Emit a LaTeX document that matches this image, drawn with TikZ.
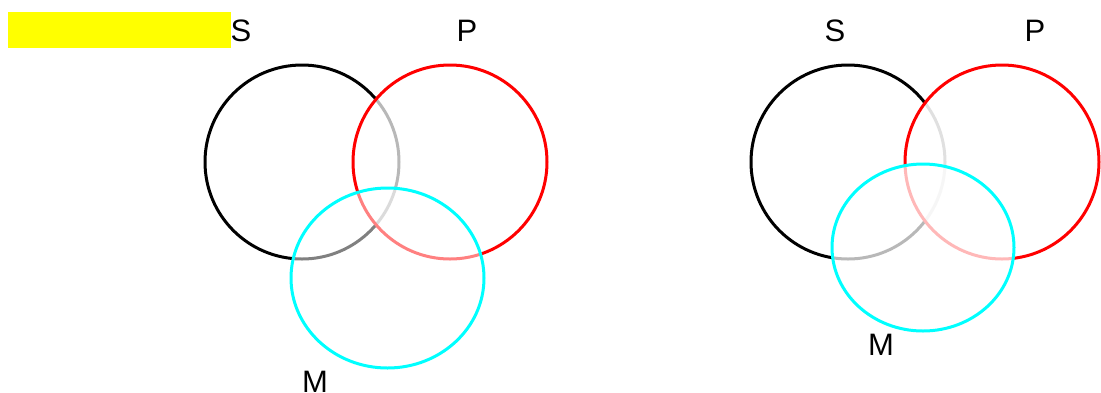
\documentclass[tikz,border=0pt]{standalone}
\usepackage{fontspec}
\setmainfont{Liberation Sans}
\usepackage{tikz}
\usetikzlibrary{shapes.geometric}
\definecolor{setcyan}{RGB}{0,255,255}
\definecolor{boxyellow}{RGB}{255,255,0}
\definecolor{setred}{RGB}{255,0,0}

\begin{document}
\begin{tikzpicture}[x=1pt,y=-1pt,
  setc/.style={circle,draw,line width=3pt,inner sep=0pt,minimum size=194pt},
  sete/.style={ellipse,draw=setcyan,line width=3pt,inner sep=0pt,fill=white},
  lbl/.style={anchor=base,inner sep=0pt,font=\fontsize{31}{36}\selectfont}]
  \useasboundingbox (0,0) rectangle (1101,392);
  \fill[boxyellow] (8,12) rectangle (231,48);
  % left
  \node[setc,draw=black] (S1) at (302,162) {};
  \node[setc,draw=setred,fill=white,fill opacity=0.72] (P1) at (450,162) {};
  \node[sete,fill opacity=0.5,minimum width=193pt,minimum height=180pt] (M1) at (387.5,278) {};
  \node[lbl] (s1) at (241,41) {S};
  \node[lbl] (p1) at (467,41) {P};
  \node[lbl] (m1) at (315,392) {M};
  % right
  \node[setc,draw=black] (S2) at (848,162) {};
  \node[setc,draw=setred,fill=white,fill opacity=0.88] (P2) at (1002,162) {};
  \node[sete,fill opacity=0.72,minimum width=182pt,minimum height=167pt] (M2) at (923,247.5) {};
  \node[lbl] (s2) at (835,41) {S};
  \node[lbl] (p2) at (1035,41) {P};
  \node[lbl] (m2) at (881,355) {M};
\end{tikzpicture}
\end{document}
